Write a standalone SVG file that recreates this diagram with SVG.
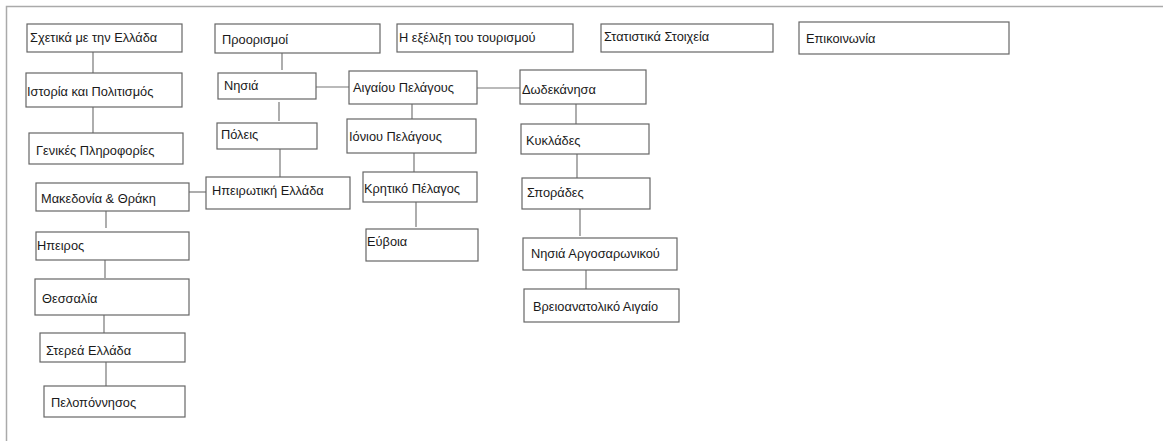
<svg xmlns="http://www.w3.org/2000/svg" width="1163" height="441" viewBox="0 0 1163 441">
<style>
.box{fill:#fff;stroke:#666;stroke-width:1.2}
.t{font-family:"Liberation Sans",Arial,sans-serif;font-size:12.8px;fill:#1a1a1a}
.c{stroke:#777;stroke-width:1.2;fill:none}
.frame{stroke:#aaa;stroke-width:1.5;fill:none}
</style>
<rect width="1163" height="441" fill="#fff"/>
<path class="frame" d="M6.5,441 V6.5 H1163"/>
<g id="connectors">
<path class="c" d="M93,52 V73"/>
<path class="c" d="M93,107 V133"/>
<path class="c" d="M282,53 V70"/>
<path class="c" d="M279,102 V121"/>
<path class="c" d="M280,149 V177"/>
<path class="c" d="M189,192 H206"/>
<path class="c" d="M316,87 H349"/>
<path class="c" d="M412,104 V119"/>
<path class="c" d="M414,153 V172"/>
<path class="c" d="M416,202 V227"/>
<path class="c" d="M477,88 H520"/>
<path class="c" d="M576,104 V124"/>
<path class="c" d="M577,154 V178"/>
<path class="c" d="M580,209 V236"/>
<path class="c" d="M586,270 V292"/>
<path class="c" d="M106,211 V228"/>
<path class="c" d="M105,260 V278"/>
<path class="c" d="M104,315 V333"/>
<path class="c" d="M106,362 V386"/>
</g>
<g id="n-sxetika"><rect class="box" x="27" y="24" width="155" height="28"/><text class="t" x="30" y="42">Σχετικά με την Ελλάδα</text></g>
<g id="n-istoria"><rect class="box" x="26" y="73" width="156" height="34"/><text class="t" x="27" y="96">Ιστορία και Πολιτισμός</text></g>
<g id="n-genikes"><rect class="box" x="29" y="133" width="154" height="31"/><text class="t" x="36" y="155">Γενικές Πληροφορίες</text></g>
<g id="n-makedonia"><rect class="box" x="36" y="183" width="153" height="28"/><text class="t" x="41" y="203">Μακεδονία &amp; Θράκη</text></g>
<g id="n-ipeiros"><rect class="box" x="36" y="232" width="153" height="28"/><text class="t" x="37" y="250">Ηπειρος</text></g>
<g id="n-thessalia"><rect class="box" x="35" y="279" width="154" height="36"/><text class="t" x="42" y="303">Θεσσαλία</text></g>
<g id="n-sterea"><rect class="box" x="40" y="333" width="145" height="29"/><text class="t" x="46" y="355">Στερεά Ελλάδα</text></g>
<g id="n-peloponnisos"><rect class="box" x="44" y="386" width="141" height="31"/><text class="t" x="51" y="407">Πελοπόννησος</text></g>
<g id="n-proorismoi"><rect class="box" x="215" y="24" width="165" height="29"/><text class="t" x="222" y="44">Προορισμοί</text></g>
<g id="n-nisia"><rect class="box" x="218" y="73" width="98" height="26"/><text class="t" x="224" y="90">Νησιά</text></g>
<g id="n-poleis"><rect class="box" x="217" y="123" width="100" height="26"/><text class="t" x="221" y="139">Πόλεις</text></g>
<g id="n-ipeirotiki"><rect class="box" x="206" y="177" width="144" height="32"/><text class="t" x="212" y="195">Ηπειρωτική Ελλάδα</text></g>
<g id="n-aigaiou"><rect class="box" x="349" y="71" width="128" height="33"/><text class="t" x="353" y="92">Αιγαίου Πελάγους</text></g>
<g id="n-ioniou"><rect class="box" x="347" y="119" width="129" height="34"/><text class="t" x="349" y="141">Ιόνιου Πελάγους</text></g>
<g id="n-kritiko"><rect class="box" x="363" y="172" width="114" height="30"/><text class="t" x="364" y="193">Κρητικό Πέλαγος</text></g>
<g id="n-evoia"><rect class="box" x="366" y="229" width="112" height="32"/><text class="t" x="367" y="246">Εύβοια</text></g>
<g id="n-exelixi"><rect class="box" x="397" y="24" width="176" height="28"/><text class="t" x="399" y="42">Η εξέλιξη του τουρισμού</text></g>
<g id="n-statistika"><rect class="box" x="601" y="24" width="172" height="28"/><text class="t" x="604" y="41">Στατιστικά Στοιχεία</text></g>
<g id="n-epikoinonia"><rect class="box" x="799" y="22" width="210" height="32"/><text class="t" x="806" y="43">Επικοινωνία</text></g>
<g id="n-dodekanisa"><rect class="box" x="520" y="70" width="126" height="34"/><text class="t" x="522" y="94">Δωδεκάνησα</text></g>
<g id="n-kyklades"><rect class="box" x="521" y="124" width="128" height="30"/><text class="t" x="526" y="145">Κυκλάδες</text></g>
<g id="n-sporades"><rect class="box" x="522" y="178" width="128" height="31"/><text class="t" x="527" y="197">Σποράδες</text></g>
<g id="n-argosaronikou"><rect class="box" x="523" y="238" width="154" height="32"/><text class="t" x="531" y="258">Νησιά Αργοσαρωνικού</text></g>
<g id="n-voreioanatoliko"><rect class="box" x="524" y="289" width="155" height="33"/><text class="t" x="533" y="311">Βρειοανατολικό Αιγαίο</text></g>
</svg>
